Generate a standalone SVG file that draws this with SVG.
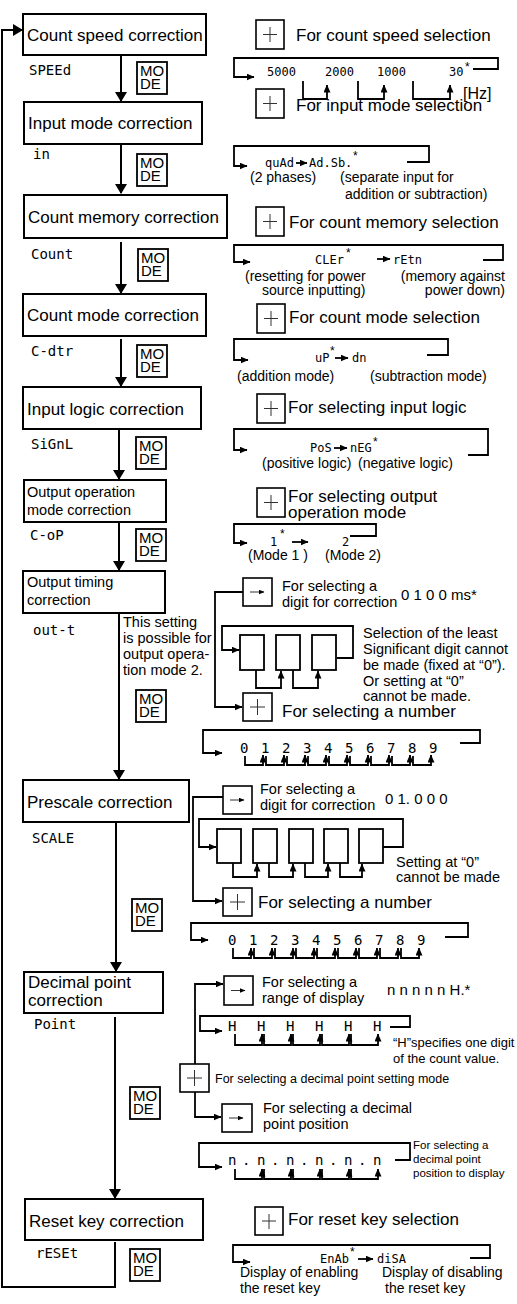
<svg xmlns="http://www.w3.org/2000/svg" width="517" height="1304" viewBox="0 0 517 1304">
<defs>
<style>
.t{font-family:"Liberation Sans",Arial,sans-serif;fill:#000}
.s{font-family:"DejaVu Sans Mono","Liberation Mono",monospace;fill:#000}
.b{fill:#fff;stroke:#000;stroke-width:2}
.k{fill:#fff;stroke:#000;stroke-width:1.6}
.m{fill:#fff;stroke:#000;stroke-width:1.8}
.c{fill:none;stroke:#000;stroke-width:2}
.c2{fill:none;stroke:#000;stroke-width:1.8}
.p{fill:none;stroke:#333;stroke-width:1}
.f17{font-size:17px}.f16{font-size:16px}.f15{font-size:15px}.f145{font-size:14.5px}.f14{font-size:14px}.f13{font-size:13px}.f125{font-size:12.5px}.f12{font-size:12px}.f115{font-size:11.5px}
</style>
<marker id="a" viewBox="0 0 10 12" refX="9" refY="6" markerWidth="10" markerHeight="12" markerUnits="userSpaceOnUse" orient="auto"><path d="M0,0L10,6L0,12z"/></marker>
<marker id="sa" viewBox="0 0 8 7" refX="7.5" refY="3.5" markerWidth="8" markerHeight="7" markerUnits="userSpaceOnUse" orient="auto"><path d="M0,0L8,3.5L0,7z"/></marker>
<marker id="ta" viewBox="0 0 6 5" refX="5.5" refY="2.5" markerWidth="6" markerHeight="5" markerUnits="userSpaceOnUse" orient="auto"><path d="M0,0L6,2.5L0,5z"/></marker>
</defs>
<rect width="517" height="1304" fill="#fff"/>

<g id="connectors">
<path class="c" d="M121,55V101" marker-end="url(#a)"/>
<path class="c" d="M121,144V193" marker-end="url(#a)"/>
<path class="c" d="M121,242V293" marker-end="url(#a)"/>
<path class="c" d="M121,339V386" marker-end="url(#a)"/>
<path class="c" d="M119,429V479" marker-end="url(#a)"/>
<path class="c" d="M119,522V570" marker-end="url(#a)"/>
<path class="c" d="M119,613V779" marker-end="url(#a)"/>
<path class="c" d="M116,822V971" marker-end="url(#a)"/>
<path class="c" d="M115,1017V1198" marker-end="url(#a)"/>
<path class="c" d="M115,1242V1287H2V30H22" marker-end="url(#a)"/>

<path class="c2" d="M473,69H498V58H234V77H254" marker-end="url(#sa)"/>
<path class="c2" d="M303,81V99H327V85" marker-end="url(#sa)"/>
<path class="c2" d="M358,81V99H384V85" marker-end="url(#sa)"/>
<path class="c2" d="M413,81V99H450V85" marker-end="url(#sa)"/>
<path class="c2" d="M407,162H429V146H234V166H247" marker-end="url(#sa)"/>
<path class="c2" d="M296,163H307" marker-end="url(#sa)"/>
<path class="c2" d="M483,260H503V245H234V262H250" marker-end="url(#sa)"/>
<path class="c2" d="M377,259H390" marker-end="url(#sa)"/>
<path class="c2" d="M427,355H448V339H234V360H248" marker-end="url(#sa)"/>
<path class="c2" d="M335,358H348" marker-end="url(#sa)"/>
<path class="c2" d="M468,455H488V429H234V450H247" marker-end="url(#sa)"/>
<path class="c2" d="M334,448H347" marker-end="url(#sa)"/>
<path class="c2" d="M350,536H376V524H234V543H247" marker-end="url(#sa)"/>
<path class="c2" d="M292,542H308" marker-end="url(#sa)"/>

<path class="c2" d="M243,592H215V707H242" marker-end="url(#sa)"/>
<path class="c2" d="M337,658H353V626H222V650H239" marker-end="url(#sa)"/>
<path class="c2" d="M256,670V688H281V671" marker-end="url(#sa)"/>
<path class="c2" d="M293,670V688H318V671" marker-end="url(#sa)"/>
<path class="c2" d="M460,743H480V730H203V753H222" marker-end="url(#sa)"/>
<path class="c2" d="M245,756V765H263V755" marker-end="url(#sa)"/>
<path class="c2" d="M266,756V765H284V755" marker-end="url(#sa)"/>
<path class="c2" d="M287,756V765H305V755" marker-end="url(#sa)"/>
<path class="c2" d="M308,756V765H326V755" marker-end="url(#sa)"/>
<path class="c2" d="M329,756V765H347V755" marker-end="url(#sa)"/>
<path class="c2" d="M350,756V765H368V755" marker-end="url(#sa)"/>
<path class="c2" d="M371,756V765H389V755" marker-end="url(#sa)"/>
<path class="c2" d="M392,756V765H410V755" marker-end="url(#sa)"/>
<path class="c2" d="M413,756V765H431V755" marker-end="url(#sa)"/>

<path class="c2" d="M223,797H193V901H222" marker-end="url(#sa)"/>
<path class="c2" d="M383,847H403V819H199V847H216" marker-end="url(#sa)"/>
<path class="c2" d="M233,863V877H257V864" marker-end="url(#sa)"/>
<path class="c2" d="M269,863V877H293V864" marker-end="url(#sa)"/>
<path class="c2" d="M305,863V877H328V864" marker-end="url(#sa)"/>
<path class="c2" d="M340,863V877H362V864" marker-end="url(#sa)"/>
<path class="c2" d="M445,937H468V923H191V940H208" marker-end="url(#sa)"/>
<path class="c2" d="M233,948V958H251V948" marker-end="url(#sa)"/>
<path class="c2" d="M254,948V958H272V948" marker-end="url(#sa)"/>
<path class="c2" d="M275,948V958H293V948" marker-end="url(#sa)"/>
<path class="c2" d="M296,948V958H314V948" marker-end="url(#sa)"/>
<path class="c2" d="M317,948V958H335V948" marker-end="url(#sa)"/>
<path class="c2" d="M338,948V958H356V948" marker-end="url(#sa)"/>
<path class="c2" d="M359,948V958H377V948" marker-end="url(#sa)"/>
<path class="c2" d="M380,948V958H398V948" marker-end="url(#sa)"/>
<path class="c2" d="M401,948V958H419V948" marker-end="url(#sa)"/>

<path class="c2" d="M195,1064V984H223" marker-end="url(#sa)"/>
<path class="c2" d="M195,1092V1117H221" marker-end="url(#sa)"/>
<path class="c2" d="M390,1027H410V1016H200V1031H222" marker-end="url(#sa)"/>
<path class="c2" d="M235,1034V1045H262V1034" marker-end="url(#sa)"/>
<path class="c2" d="M264,1034V1045H291V1034" marker-end="url(#sa)"/>
<path class="c2" d="M293,1034V1045H320V1034" marker-end="url(#sa)"/>
<path class="c2" d="M322,1034V1045H349V1034" marker-end="url(#sa)"/>
<path class="c2" d="M351,1034V1045H378V1034" marker-end="url(#sa)"/>
<path class="c2" d="M395,1160H410V1143H199V1167H222" marker-end="url(#sa)"/>
<path class="c2" d="M235,1169V1179H262V1169" marker-end="url(#sa)"/>
<path class="c2" d="M264,1169V1179H291V1169" marker-end="url(#sa)"/>
<path class="c2" d="M293,1169V1179H320V1169" marker-end="url(#sa)"/>
<path class="c2" d="M322,1169V1179H349V1169" marker-end="url(#sa)"/>
<path class="c2" d="M351,1169V1179H378V1169" marker-end="url(#sa)"/>

<path class="c2" d="M470,1258H490V1245H233V1262H250" marker-end="url(#sa)"/>
<path class="c2" d="M358,1259H373" marker-end="url(#sa)"/>
</g>

<g id="n-speed"><rect class="b" x="23" y="14" width="183" height="41"/><text class="t f17" x="27" y="41">Count speed correction</text><text class="s f14" x="29" y="75">SPEEd</text></g>
<g id="n-input"><rect class="b" x="24" y="102" width="178" height="42"/><text class="t f17" x="28" y="129">Input mode correction</text><text class="s f14" x="33" y="159">in</text></g>
<g id="n-memory"><rect class="b" x="24" y="195" width="203" height="43"/><text class="t f17" x="28" y="223">Count memory correction</text><text class="s f14" x="31" y="259">Count</text></g>
<g id="n-cmode"><rect class="b" x="23" y="294" width="183" height="42"/><text class="t f17" x="27" y="321">Count mode correction</text><text class="s f14" x="31" y="356">C-dtr</text></g>
<g id="n-logic"><rect class="b" x="23" y="387" width="178" height="42"/><text class="t f17" x="27" y="415">Input logic correction</text><text class="s f14" x="31" y="449">SiGnL</text></g>
<g id="n-outop"><rect class="b" x="24" y="480" width="142" height="42"/><text class="t f145" x="27" y="497">Output operation</text><text class="t f145" x="27" y="515">mode correction</text><text class="s f14" x="30" y="540">C-oP</text></g>
<g id="n-timing"><rect class="b" x="23" y="571" width="142" height="42"/><text class="t f145" x="27" y="587">Output timing</text><text class="t f145" x="27" y="605">correction</text><text class="s f14" x="33" y="635">out-t</text>
<text class="t f145" x="123" y="627">This setting</text><text class="t f145" x="123" y="643">is possible for</text><text class="t f145" x="123" y="659">output opera-</text><text class="t f145" x="123" y="675">tion mode 2.</text></g>
<g id="n-prescale"><rect class="b" x="23" y="780" width="166" height="42"/><text class="t f17" x="27" y="808">Prescale correction</text><text class="s f14" x="32" y="843">SCALE</text></g>
<g id="n-decimal"><rect class="b" x="24" y="972" width="139" height="41"/><text class="t f17" x="28" y="988">Decimal point</text><text class="t f17" x="28" y="1006">correction</text><text class="s f14" x="34" y="1029">Point</text></g>
<g id="n-reset"><rect class="b" x="25" y="1199" width="178" height="41"/><text class="t f17" x="29" y="1227">Reset key correction</text><text class="s f14" x="36" y="1258">rESEt</text></g>

<g id="mode1"><rect class="m" x="137" y="62" width="30" height="32"/><text class="t f15"><tspan x="140" y="76">MO</tspan><tspan x="140" y="89">DE</tspan></text></g>
<g id="mode2"><rect class="m" x="137" y="154" width="30" height="32"/><text class="t f15"><tspan x="140" y="168">MO</tspan><tspan x="140" y="181">DE</tspan></text></g>
<g id="mode3"><rect class="m" x="138" y="249" width="30" height="32"/><text class="t f15"><tspan x="141" y="263">MO</tspan><tspan x="141" y="276">DE</tspan></text></g>
<g id="mode4"><rect class="m" x="137" y="345" width="30" height="32"/><text class="t f15"><tspan x="140" y="359">MO</tspan><tspan x="140" y="372">DE</tspan></text></g>
<g id="mode5"><rect class="m" x="136" y="437" width="30" height="32"/><text class="t f15"><tspan x="139" y="451">MO</tspan><tspan x="139" y="464">DE</tspan></text></g>
<g id="mode6"><rect class="m" x="136" y="529" width="30" height="32"/><text class="t f15"><tspan x="139" y="543">MO</tspan><tspan x="139" y="556">DE</tspan></text></g>
<g id="mode7"><rect class="m" x="136" y="690" width="30" height="32"/><text class="t f15"><tspan x="139" y="704">MO</tspan><tspan x="139" y="717">DE</tspan></text></g>
<g id="mode8"><rect class="m" x="132" y="899" width="30" height="32"/><text class="t f15"><tspan x="135" y="913">MO</tspan><tspan x="135" y="926">DE</tspan></text></g>
<g id="mode9"><rect class="m" x="130" y="1087" width="30" height="32"/><text class="t f15"><tspan x="133" y="1101">MO</tspan><tspan x="133" y="1114">DE</tspan></text></g>
<g id="mode10"><rect class="m" x="130" y="1249" width="30" height="32"/><text class="t f15"><tspan x="133" y="1263">MO</tspan><tspan x="133" y="1276">DE</tspan></text></g>

<g id="r-speed">
<rect class="k" x="256" y="20" width="28" height="29"/><path class="p" d="M263,34.5H277M270,27V42"/>
<text class="t f17" x="296" y="41">For count speed selection</text>
<text class="s f12" x="267" y="76">5000</text><text class="s f12" x="325" y="76">2000</text><text class="s f12" x="377" y="76">1000</text><text class="s f12" x="449" y="76">30</text>
<text class="t f12" x="465" y="71">*</text>
<text class="t f16" x="463" y="99">[Hz]</text>
</g>
<g id="r-input">
<rect class="k" x="256" y="89" width="28" height="29"/><path class="p" d="M263,103.5H277M270,96V111"/>
<text class="t f17" x="296" y="111">For input mode selection</text>
<text class="s f12" x="265" y="167">quAd</text><text class="s f12" x="309" y="167">Ad.Sb.</text><text class="t f12" x="353" y="160">*</text>
<text class="t f14" x="250" y="182">(2 phases)</text>
<text class="t f14" x="340" y="182">(separate input for</text>
<text class="t f14" x="345" y="199">addition or subtraction)</text>
</g>
<g id="r-memory">
<rect class="k" x="256" y="207" width="28" height="29"/><path class="p" d="M263,221.5H277M270,214V229"/>
<text class="t f17" x="289" y="228">For count memory selection</text>
<text class="s f12" x="315" y="264">CLEr</text><text class="t f12" x="346" y="257">*</text><text class="s f12" x="393" y="264">rEtn</text>
<text class="t f14" x="245" y="281">(resetting for power</text>
<text class="t f14" x="262" y="295">source inputting)</text>
<text class="t f14" x="505" y="281" text-anchor="end">(memory against</text>
<text class="t f14" x="505" y="295" text-anchor="end">power down)</text>
</g>
<g id="r-cmode">
<rect class="k" x="257" y="304" width="28" height="29"/><path class="p" d="M264,318.5H278M271,311V326"/>
<text class="t f17" x="289" y="323">For count mode selection</text>
<text class="s f12" x="315" y="362">uP</text><text class="t f12" x="330" y="355">*</text><text class="s f12" x="352" y="362">dn</text>
<text class="t f14" x="237" y="381">(addition mode)</text>
<text class="t f14" x="370" y="381">(subtraction mode)</text>
</g>
<g id="r-logic">
<rect class="k" x="257" y="394" width="28" height="29"/><path class="p" d="M264,408.5H278M271,401V416"/>
<text class="t f17" x="288" y="413">For selecting input logic</text>
<text class="s f12" x="310" y="452">PoS</text><text class="s f12" x="350" y="452">nEG</text><text class="t f12" x="373" y="446">*</text>
<text class="t f14" x="262" y="468">(positive logic)</text>
<text class="t f14" x="358" y="468">(negative logic)</text>
</g>
<g id="r-outop">
<rect class="k" x="257" y="488" width="28" height="29"/><path class="p" d="M264,502.5H278M271,495V510"/>
<text class="t f17"><tspan x="288" y="502">For selecting output</tspan><tspan x="288" y="518">operation mode</tspan></text>
<text class="s f12" x="270" y="546">1</text><text class="t f12" x="280" y="538">*</text><text class="s f12" x="342" y="546">2</text>
<text class="t f14" x="248" y="560">(Mode 1 )</text>
<text class="t f14" x="325" y="560">(Mode 2)</text>
</g>
<g id="r-timing">
<rect class="k" x="243" y="578" width="29" height="28"/><path class="p" d="M250,592H264" marker-end="url(#ta)"/>
<text class="t f145" x="282" y="591">For selecting a</text>
<text class="t f145" x="282" y="607">digit for correction</text>
<text class="t f15" x="401" y="600">0 1 0 0 ms*</text>
<rect class="c2" x="240" y="635" width="24" height="35"/>
<rect class="c2" x="276" y="635" width="24" height="35"/>
<rect class="c2" x="312" y="635" width="24" height="35"/>
<text class="t f145"><tspan x="363" y="638">Selection of the least</tspan><tspan x="363" y="654">Significant digit cannot</tspan><tspan x="363" y="670">be made (fixed at “0”).</tspan><tspan x="363" y="686">Or setting at “0”</tspan><tspan x="363" y="701">cannot be made.</tspan></text>
<rect class="k" x="243" y="693" width="29" height="28"/><path class="p" d="M250,707H265M257.5,699V715"/>
<text class="t f17" x="282" y="717">For selecting a number</text>
<text class="s f14" x="240 261 282 303 324 345 366 387 408 429" y="753">0123456789</text>
</g>
<g id="r-prescale">
<rect class="k" x="223" y="786" width="29" height="28"/><path class="p" d="M230,800H244" marker-end="url(#ta)"/>
<text class="t f145" x="260" y="794">For selecting a</text>
<text class="t f145" x="260" y="810">digit for correction</text>
<text class="t f15" x="385" y="804">0 1. 0 0 0</text>
<rect class="c2" x="217" y="829" width="24" height="34"/>
<rect class="c2" x="253" y="829" width="24" height="34"/>
<rect class="c2" x="289" y="829" width="24" height="34"/>
<rect class="c2" x="324" y="829" width="24" height="34"/>
<rect class="c2" x="359" y="829" width="24" height="34"/>
<text class="t f145"><tspan x="396" y="867">Setting at “0”</tspan><tspan x="396" y="882">cannot be made</tspan></text>
<rect class="k" x="223" y="888" width="29" height="28"/><path class="p" d="M230,902H245M237.5,894V910"/>
<text class="t f17" x="258" y="908">For selecting a number</text>
<text class="s f14" x="228 249 270 291 312 333 354 375 396 417" y="945">0123456789</text>
</g>
<g id="r-decimal">
<rect class="k" x="224" y="976" width="29" height="29"/><path class="p" d="M231,990.5H245" marker-end="url(#ta)"/>
<text class="t f145" x="262" y="987">For selecting a</text>
<text class="t f145" x="262" y="1003">range of display</text>
<text class="t f15" x="387" y="995">n n n n n H.*</text>
<text class="s f14" x="228 257 286 315 344 373" y="1031">HHHHHH</text>
<text class="t f13"><tspan x="393" y="1047">“H”specifies one digit</tspan><tspan x="393" y="1063">of the count value.</tspan></text>
<rect class="k" x="180" y="1064" width="29" height="28"/><path class="p" d="M187,1078H202M194.5,1070V1086"/>
<text class="t f125" x="215" y="1083">For selecting a decimal point setting mode</text>
<rect class="k" x="222" y="1104" width="30" height="28"/><path class="p" d="M229,1118H243" marker-end="url(#ta)"/>
<text class="t f145" x="263" y="1113">For selecting a decimal</text>
<text class="t f145" x="263" y="1129">point position</text>
<text class="s f14" x="228 242 257 271 286 300 315 329 344 358 373" y="1165">n.n.n.n.n.n</text>
<text class="t f115"><tspan x="413" y="1149">For selecting a</tspan><tspan x="413" y="1163">decimal point</tspan><tspan x="413" y="1177">position to display</tspan></text>
</g>
<g id="r-reset">
<rect class="k" x="255" y="1207" width="28" height="28"/><path class="p" d="M262,1221H276M269,1214V1229"/>
<text class="t f17" x="288" y="1225">For reset key selection</text>
<text class="s f12" x="320" y="1263">EnAb</text><text class="t f12" x="350" y="1256">*</text><text class="s f12" x="377" y="1263">diSA</text>
<text class="t f14" x="240" y="1277">Display of enabling</text>
<text class="t f14" x="240" y="1293">the reset key</text>
<text class="t f14" x="382" y="1277">Display of disabling</text>
<text class="t f14" x="385" y="1293">the reset key</text>
</g>
</svg>
